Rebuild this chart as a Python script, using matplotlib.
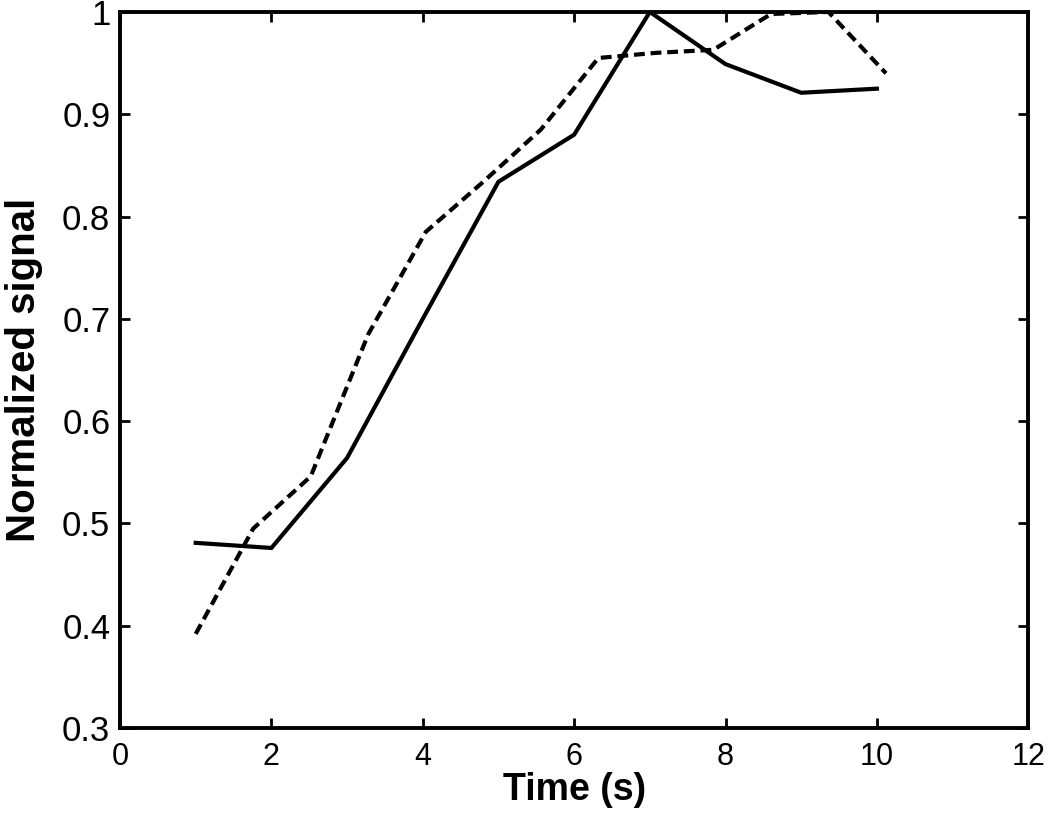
import matplotlib
matplotlib.use('Agg')
import matplotlib.pyplot as plt
from matplotlib.ticker import FuncFormatter

# solid trace, sampled every second
t_solid = [1, 2, 3, 4, 5, 6, 7, 8, 9, 10]
sig_solid = [0.481, 0.476, 0.564, 0.700, 0.834, 0.880, 1.000, 0.949, 0.921, 0.925]

# dashed trace, sampled on a slightly different grid
t_dash = [1.00, 1.76, 2.52, 3.28, 4.04, 4.80, 5.56, 6.32, 7.08, 7.84, 8.60, 9.36, 10.12]
sig_dash = [0.392, 0.495, 0.546, 0.685, 0.785, 0.834, 0.885, 0.955, 0.960, 0.963,
            0.998, 1.000, 0.940]

x_ticks = [0, 2, 4, 6, 8, 10, 12]
y_ticks = [0.3, 0.4, 0.5, 0.6, 0.7, 0.8, 0.9, 1.0]

plt.rcParams['font.family'] = ['Liberation Sans', 'DejaVu Sans']

fig = plt.figure(figsize=(10.5, 8.24), dpi=100)
ax = fig.add_axes([0.1143, 0.1165, 0.865, 0.869])

ax.plot(t_solid, sig_solid, color='black', lw=3.0, solid_joinstyle='miter')
ax.plot(t_dash, sig_dash, color='black', lw=3.0, dashes=(2.6, 1.4))

ax.set_xlim(0, 12)
ax.set_ylim(0.3, 1.0)
ax.set_xticks(x_ticks)
ax.set_yticks(y_ticks)
ax.yaxis.set_major_formatter(FuncFormatter(lambda v, p: f'{v:g}'))

ax.tick_params(direction='in', length=7, width=2.0, top=True, right=True)
ax.tick_params(axis='x', labelsize=22, pad=10)
ax.tick_params(axis='y', labelsize=25, pad=7)
for s in ax.spines.values():
    s.set_linewidth(2.8)

ax.set_xlabel('Time (s)', labelpad=0, weight='bold', size=27)
ax.set_ylabel('Normalized signal', labelpad=14, weight='bold', size=29)

fig.savefig('out.png', dpi=100)
